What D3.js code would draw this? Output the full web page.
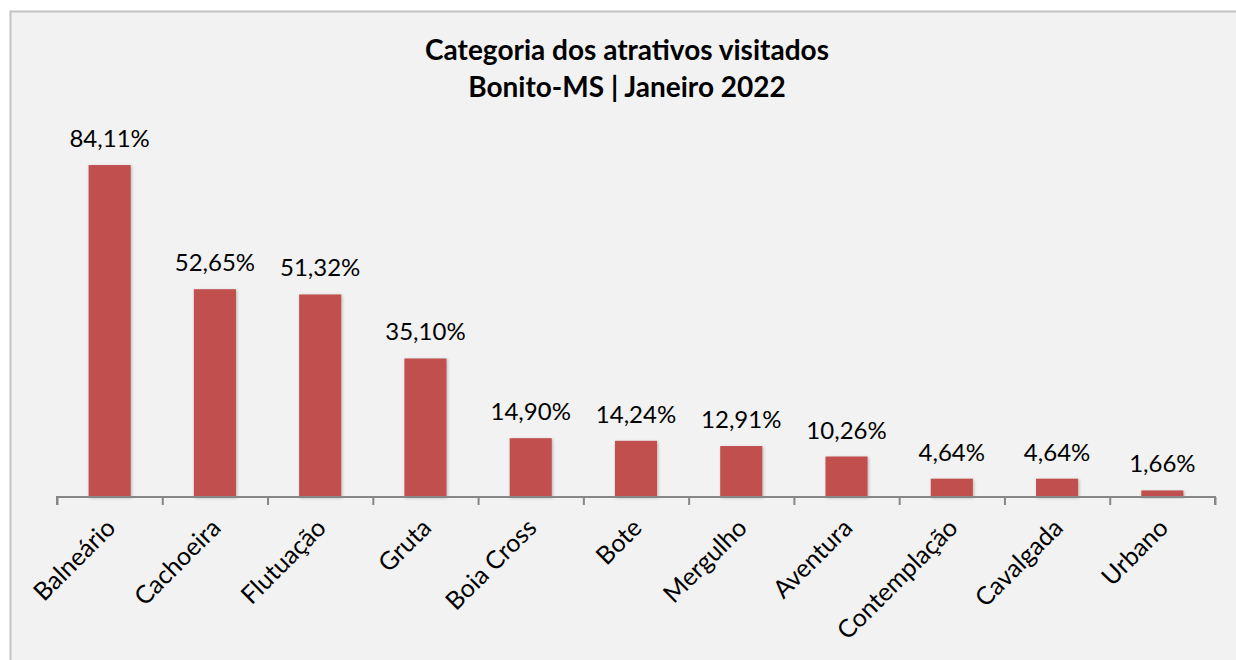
<!DOCTYPE html>
<html>
<head>
<meta charset="utf-8">
<script src="https://cdn.jsdelivr.net/npm/d3@7"></script>
<style>
  body { margin: 0; background: #ffffff; }
  text { font-family: Lato, "Open Sans", sans-serif; fill: #000; }
</style>
</head>
<body>
<div class="chart"></div>
<script>
// data
var categories = ["Balneário", "Cachoeira", "Flutuação", "Gruta", "Boia Cross", "Bote",
  "Mergulho", "Aventura", "Contemplação", "Cavalgada", "Urbano"];
var values = [84.11, 52.65, 51.32, 35.10, 14.90, 14.24, 12.91, 10.26, 4.64, 4.64, 1.66];
var titleLines = ["Categoria dos atrativos visitados", "Bonito-MS | Janeiro 2022"];

var svgWidth = 1236;
var svgHeight = 660;

var svg = d3.select(".chart")
  .append("svg")
  .attr("width", svgWidth)
  .attr("height", svgHeight);

// chart area frame
svg.append("rect")
  .attr("x", 10.5)
  .attr("y", 11.5)
  .attr("width", 1250)
  .attr("height", 700)
  .attr("fill", "#f2f2f2")
  .attr("stroke", "#c4c4c4")
  .attr("stroke-width", 2);

var defs = svg.append("defs");
var shadow = defs.append("filter").attr("id", "shadow")
  .attr("x", "-20%").attr("y", "-20%").attr("width", "140%").attr("height", "140%");
shadow.append("feDropShadow")
  .attr("dx", 1).attr("dy", 1).attr("stdDeviation", 1.5)
  .attr("flood-color", "#000").attr("flood-opacity", 0.25);

var plotLeft = 57, plotRight = 1215, baseY = 497;

var x = d3.scaleBand()
  .domain(categories)
  .range([plotLeft, plotRight])
  .paddingInner(0.6)
  .paddingOuter(0.3);

var y = d3.scaleLinear()
  .domain([0, 90])
  .range([baseY, 141.8]);

// title
svg.append("g").selectAll("text")
  .data(titleLines)
  .enter()
  .append("text")
  .attr("x", 627)
  .attr("y", function(d, i) { return 60 + i * 37; })
  .attr("text-anchor", "middle")
  .style("font-size", "28px")
  .style("font-weight", "bold")
  .text(function(d) { return d; });

var data = categories.map(function(c, i) { return { cat: c, val: values[i] }; });

// bars
svg.append("g").selectAll("rect")
  .data(data)
  .enter()
  .append("rect")
  .attr("x", function(d) { return x(d.cat); })
  .attr("y", function(d) { return y(d.val); })
  .attr("width", x.bandwidth())
  .attr("height", function(d) { return baseY - y(d.val); })
  .attr("fill", "#c0504d")
  .attr("filter", "url(#shadow)");

// value labels
svg.append("g").selectAll("text")
  .data(data)
  .enter()
  .append("text")
  .attr("x", function(d) { return x(d.cat) + x.bandwidth() / 2; })
  .attr("y", function(d) { return y(d.val) - 18; })
  .attr("text-anchor", "middle")
  .style("font-size", "24px")
  .text(function(d) { return d.val.toFixed(2).replace(".", ",") + "%"; });

// x axis with ticks between categories
var axisScale = d3.scaleLinear().domain([0, categories.length]).range([plotLeft, plotRight]);
var axis = d3.axisBottom(axisScale)
  .tickValues(d3.range(categories.length + 1))
  .tickSize(8)
  .tickFormat("");

var axisG = svg.append("g")
  .attr("transform", "translate(0," + baseY + ")")
  .call(axis);
axisG.selectAll("path, line").attr("stroke", "#878787").attr("stroke-width", 2);
axisG.select(".domain").attr("d", "M" + plotLeft + ",8V0H" + plotRight + "V8");

// category labels
svg.append("g").selectAll("text")
  .data(categories)
  .enter()
  .append("text")
  .attr("transform", function(d) {
    return "translate(" + (x(d) + x.bandwidth() / 2 - 5) + "," + (baseY + 20) + ") rotate(-45)";
  })
  .attr("text-anchor", "end")
  .attr("dy", "0.7em")
  .style("font-size", "25px")
  .text(function(d) { return d; });
</script>
</body>
</html>
